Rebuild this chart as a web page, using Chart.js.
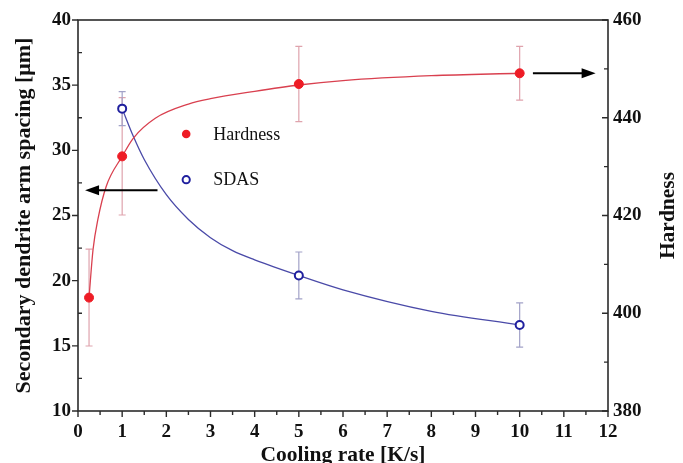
<!DOCTYPE html>
<html>
<head>
<meta charset="utf-8">
<script src="https://cdn.jsdelivr.net/npm/chart.js@4.4.0/dist/chart.umd.min.js"></script>
<style>
  html, body { margin: 0; padding: 0; background: #fff; }
</style>
</head>
<body>
<canvas id="chart" width="683" height="463"></canvas>
<script>
// measured points
const hardnessRate = [0.25, 1, 5, 10];
const hardness = [403.2, 432.1, 446.9, 449.1];
const hardnessErr = [9.9, 12, 7.7, 5.5];

const sdasRate = [1, 5, 10];
const sdas = [33.2, 20.4, 16.6];
const sdasErr = [1.3, 1.8, 1.7];

// fitted curves
const hardnessFitRate = [0.25, 0.34, 0.45, 0.64, 1, 1.25, 1.75, 2.5, 3, 4, 5, 6, 8, 10];
const hardnessFit = [403.2, 413.0, 419.2, 426.0, 432.1, 435.8, 439.9, 442.8, 443.9, 445.4, 446.7, 447.6, 448.6, 449.1];
const sdasFitRate = [1, 1.25, 1.5, 2, 2.5, 3, 3.5, 4, 5, 6, 8, 10];
const sdasFit = [33.2, 31.1, 29.3, 26.6, 24.7, 23.3, 22.3, 21.6, 20.4, 19.3, 17.65, 16.6];

const RED = '#ee1c25';
const BLUE = '#1f1f9e';
const SERIF = "'Liberation Serif', 'Times New Roman', serif";

const toXY = (xs, ys) => xs.map((x, i) => ({ x: x, y: ys[i] }));

// error bars drawn behind the markers
const errorBars = {
  id: 'errorBars',
  beforeDatasetsDraw(chart) {
    const ctx = chart.ctx;
    const x = chart.scales.x;
    const sets = [
      { xs: hardnessRate, ys: hardness, err: hardnessErr, scale: chart.scales.y1, color: '#dfa3ad' },
      { xs: sdasRate, ys: sdas, err: sdasErr, scale: chart.scales.y, color: '#a2a2c8' }
    ];
    ctx.save();
    ctx.lineWidth = 1.2;
    sets.forEach(s => {
      ctx.strokeStyle = s.color;
      s.xs.forEach((v, i) => {
        const px = x.getPixelForValue(v);
        const top = s.scale.getPixelForValue(s.ys[i] + s.err[i]);
        const bot = s.scale.getPixelForValue(s.ys[i] - s.err[i]);
        ctx.beginPath();
        ctx.moveTo(px, top); ctx.lineTo(px, bot);
        ctx.moveTo(px - 3.5, top); ctx.lineTo(px + 3.5, top);
        ctx.moveTo(px - 3.5, bot); ctx.lineTo(px + 3.5, bot);
        ctx.stroke();
      });
    });
    ctx.restore();
  }
};

function arrow(ctx, x1, y1, x2, y2) {
  const dir = Math.sign(x2 - x1);
  ctx.beginPath();
  ctx.moveTo(x1, y1);
  ctx.lineTo(x2 - dir * 10, y2);
  ctx.stroke();
  ctx.beginPath();
  ctx.moveTo(x2, y2);
  ctx.lineTo(x2 - dir * 14, y2 - 5);
  ctx.lineTo(x2 - dir * 14, y2 + 5);
  ctx.closePath();
  ctx.fill();
}

// frame, ticks, arrows, inner legend and right title
const decorations = {
  id: 'decorations',
  afterDraw(chart) {
    const ctx = chart.ctx;
    const { left, right, top, bottom } = chart.chartArea;
    const x = chart.scales.x, y = chart.scales.y, y1 = chart.scales.y1;
    ctx.save();
    ctx.strokeStyle = '#2b2b2b';
    ctx.lineWidth = 1.6;
    ctx.strokeRect(left, top, right - left, bottom - top);

    ctx.lineWidth = 1.4;
    ctx.beginPath();
    for (let v = 0; v <= 12; v += 0.5) {
      const px = x.getPixelForValue(v);
      const len = Number.isInteger(v) ? 6 : 4;
      ctx.moveTo(px, bottom); ctx.lineTo(px, bottom + len);
    }
    for (let v = 10; v <= 40; v += 2.5) {
      const py = y.getPixelForValue(v);
      if (v % 5 === 0) { ctx.moveTo(left, py); ctx.lineTo(left - 6, py); }
      else { ctx.moveTo(left, py); ctx.lineTo(left + 4, py); }
    }
    for (let v = 380; v <= 460; v += 10) {
      const py = y1.getPixelForValue(v);
      const len = v % 20 === 0 ? 6 : 4;
      ctx.moveTo(right, py); ctx.lineTo(right - len, py);
    }
    ctx.stroke();

    // arrows pointing to each axis
    ctx.strokeStyle = '#000';
    ctx.fillStyle = '#000';
    ctx.lineWidth = 2;
    const ay = y.getPixelForValue(26.93);
    arrow(ctx, x.getPixelForValue(1.8), ay, x.getPixelForValue(0.16), ay);
    const by = y1.getPixelForValue(449.1);
    arrow(ctx, x.getPixelForValue(10.3), by, x.getPixelForValue(11.72), by);

    // inner legend
    const mx = x.getPixelForValue(2.45);
    const tx = x.getPixelForValue(3.06);
    const hy = y.getPixelForValue(31.25);
    const sy = y.getPixelForValue(27.75);
    ctx.fillStyle = RED;
    ctx.beginPath(); ctx.arc(mx, hy, 4.3, 0, Math.PI * 2); ctx.fill();
    ctx.strokeStyle = BLUE;
    ctx.lineWidth = 2;
    ctx.beginPath(); ctx.arc(mx, sy, 3.6, 0, Math.PI * 2); ctx.stroke();
    ctx.fillStyle = '#111';
    ctx.font = '18px ' + SERIF;
    ctx.textBaseline = 'middle';
    ctx.textAlign = 'left';
    ctx.fillText('Hardness', tx, hy + 1);
    ctx.fillText('SDAS', tx, sy + 1);

    // right axis title, reading upward
    ctx.font = 'bold 21.5px ' + SERIF;
    ctx.textAlign = 'center';
    ctx.translate(668, (top + bottom) / 2);
    ctx.rotate(-Math.PI / 2);
    ctx.fillText('Hardness', 0, 0);
    ctx.restore();
  }
};

const tickFont = { family: SERIF, size: 19, weight: 'bold' };

new Chart(document.getElementById('chart'), {
  type: 'scatter',
  data: {
    datasets: [
      {
        label: 'Hardness',
        data: toXY(hardnessRate, hardness),
        yAxisID: 'y1',
        pointRadius: 4.5,
        backgroundColor: RED,
        borderColor: RED,
        borderWidth: 1
      },
      {
        label: 'SDAS',
        data: toXY(sdasRate, sdas),
        yAxisID: 'y',
        pointRadius: 4,
        backgroundColor: '#fff',
        borderColor: BLUE,
        borderWidth: 2
      },
      {
        label: 'Hardness fit',
        data: toXY(hardnessFitRate, hardnessFit),
        yAxisID: 'y1',
        showLine: true,
        pointRadius: 0,
        borderColor: '#d9404f',
        borderWidth: 1.3,
        cubicInterpolationMode: 'monotone'
      },
      {
        label: 'SDAS fit',
        data: toXY(sdasFitRate, sdasFit),
        yAxisID: 'y',
        showLine: true,
        pointRadius: 0,
        borderColor: '#4a4aa8',
        borderWidth: 1.3,
        cubicInterpolationMode: 'monotone'
      }
    ]
  },
  options: {
    responsive: false,
    animation: false,
    layout: { padding: { top: 20, left: 0, right: 0, bottom: 0 } },
    plugins: {
      legend: { display: false },
      tooltip: { enabled: false }
    },
    scales: {
      x: {
        type: 'linear',
        min: 0, max: 12,
        ticks: { stepSize: 1, color: '#111', font: tickFont, padding: 10 },
        grid: { display: false, drawTicks: false },
        border: { display: false },
        title: {
          display: true,
          text: 'Cooling rate [K/s]',
          color: '#111',
          font: { family: SERIF, size: 21.5, weight: 'bold', lineHeight: 1 },
          padding: { top: 0, bottom: -3 }
        },
        afterFit(scale) { scale.height = 52; }
      },
      y: {
        position: 'left',
        min: 10, max: 40,
        ticks: { stepSize: 5, color: '#111', font: tickFont, padding: 7 },
        grid: { display: false, drawTicks: false },
        border: { display: false },
        title: {
          display: true,
          text: 'Secondary dendrite arm spacing [μm]',
          color: '#111',
          font: { family: SERIF, size: 22, weight: 'bold', lineHeight: 1 },
          padding: { top: 13, bottom: 0 }
        },
        afterFit(scale) { scale.width = 78; }
      },
      y1: {
        position: 'right',
        min: 380, max: 460,
        ticks: { stepSize: 20, color: '#111', font: tickFont, padding: 5 },
        grid: { display: false, drawTicks: false },
        border: { display: false },
        afterFit(scale) { scale.width = 75; }
      }
    }
  },
  plugins: [errorBars, decorations]
});
</script>
</body>
</html>
